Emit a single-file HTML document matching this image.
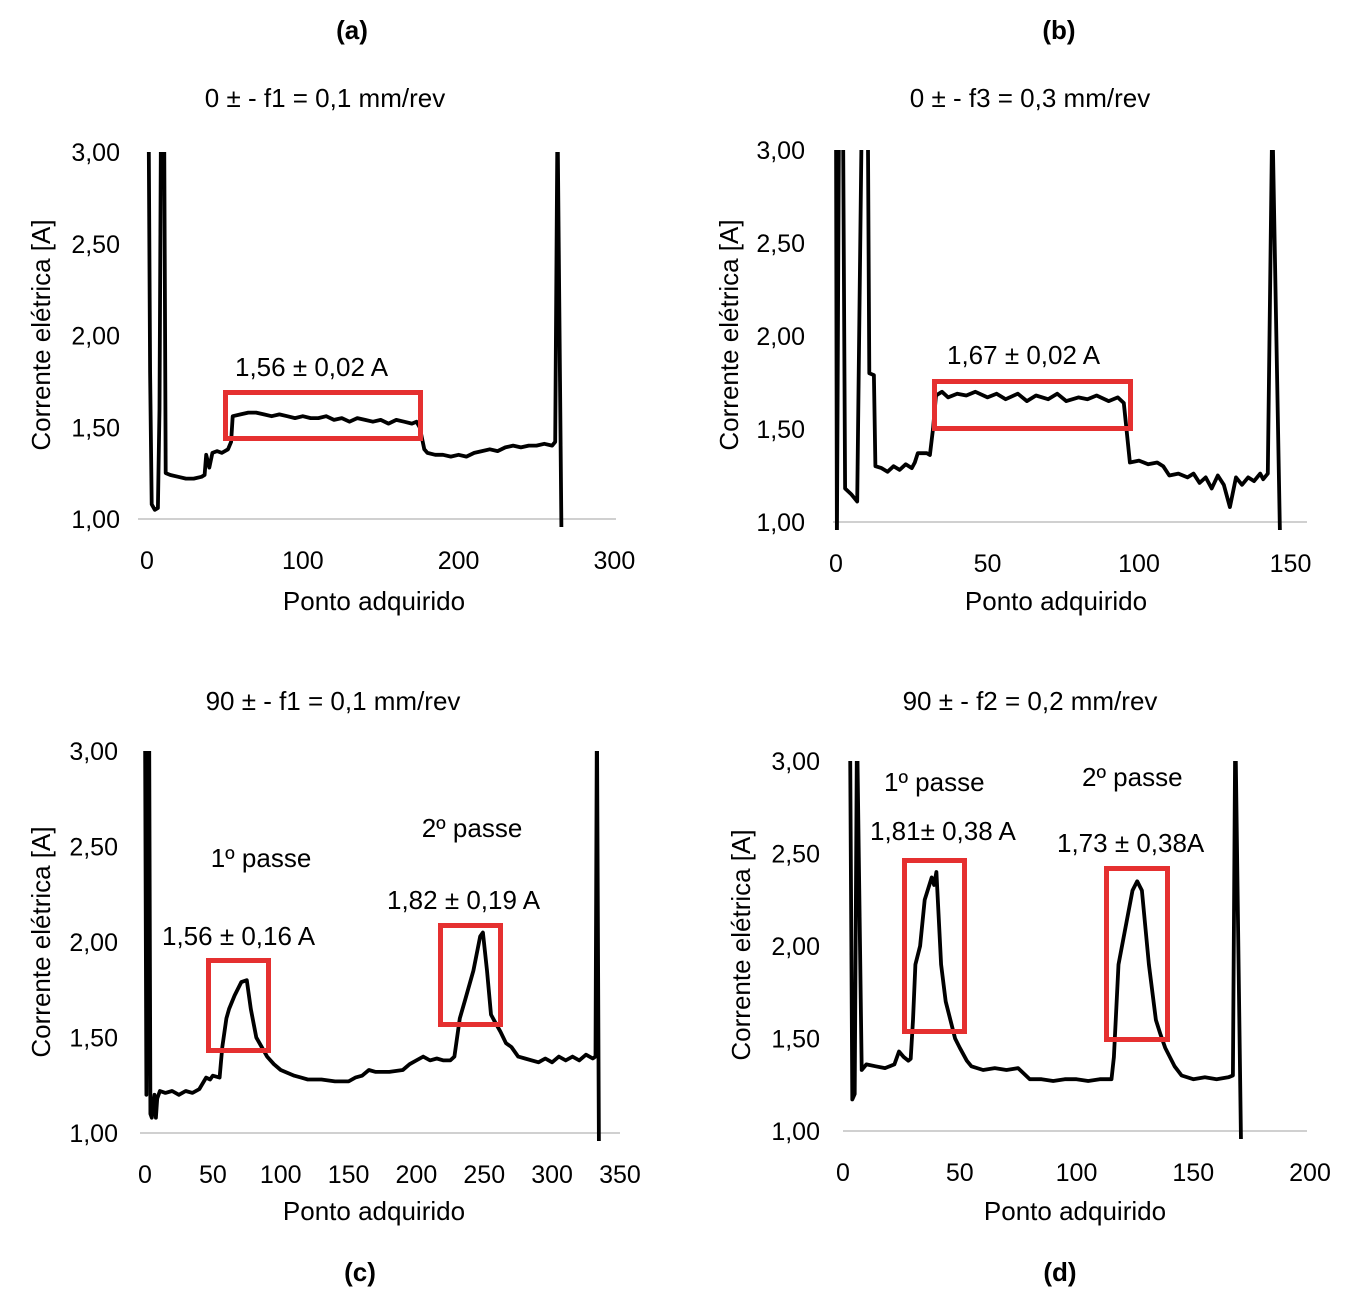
<!DOCTYPE html>
<html><head><meta charset="utf-8"><style>
body{margin:0;background:#fff;}
svg{display:block;font-family:"Liberation Sans",Arial,sans-serif;}
</style></head><body>
<svg id="fig" width="1358" height="1304" viewBox="0 0 1358 1304" xmlns="http://www.w3.org/2000/svg"></svg>
<script>
// ---- data ----
const xa=[0,1,2,3,5,7,8,9,10,11,12,15,20,25,30,35,37,38,40,42,45,48,50,52,54,55,60,65,70,75,80,85,90,95,100,105,110,115,120,125,130,135,140,145,150,155,160,165,170,173,175,178,180,185,190,195,200,205,210,215,220,225,230,235,240,245,250,255,260,262,263.5,266];
const ya=[3.2,3.2,1.8,1.08,1.05,1.06,1.6,3.2,3.2,3.2,1.25,1.24,1.23,1.22,1.22,1.23,1.24,1.35,1.28,1.36,1.37,1.36,1.37,1.38,1.42,1.56,1.57,1.58,1.58,1.57,1.56,1.57,1.56,1.55,1.56,1.55,1.55,1.56,1.54,1.55,1.53,1.55,1.54,1.53,1.54,1.52,1.54,1.53,1.52,1.53,1.50,1.38,1.36,1.35,1.35,1.34,1.35,1.34,1.36,1.37,1.38,1.37,1.39,1.40,1.39,1.40,1.40,1.41,1.40,1.42,3.2,0.95];
const xb=[0,0.3,1,2.3,3,5,6.5,7,8.5,10.5,11,12.5,13,15,17,19,21,23,25,26,27,30,31,32,33,35,37,40,43,46,50,53,56,60,63,66,70,73,76,80,83,86,90,93,95,97,100,103,106,108,110,113,116,118,120,122,124,126,128,130,132,134,136,138,140,141,142.5,144,146.5];
const yb=[3.2,0.9,3.2,3.2,1.18,1.15,1.12,1.11,3.2,3.2,1.80,1.79,1.30,1.29,1.27,1.30,1.28,1.31,1.29,1.32,1.37,1.37,1.36,1.50,1.68,1.70,1.67,1.69,1.68,1.70,1.67,1.69,1.66,1.69,1.65,1.68,1.66,1.69,1.65,1.67,1.66,1.68,1.65,1.67,1.64,1.32,1.33,1.31,1.32,1.30,1.25,1.26,1.24,1.26,1.21,1.24,1.18,1.25,1.20,1.08,1.24,1.20,1.24,1.22,1.26,1.23,1.26,3.2,0.95];
const xc=[0,1,2,3,4,5,6,7,8,9,11,15,20,25,30,35,40,45,48,50,55,57,60,62,66,71,75,78,82,86,90,95,100,110,115,120,130,140,150,155,160,165,170,180,190,195,200,205,210,215,220,225,228,232,236,242,247,249,252,255,258,262,266,270,275,280,290,295,300,305,310,315,320,325,330,332,333,334.5];
const yc=[3.2,1.2,3.2,3.2,1.10,1.08,1.15,1.20,1.08,1.18,1.22,1.21,1.22,1.20,1.22,1.21,1.23,1.29,1.28,1.30,1.29,1.45,1.60,1.65,1.72,1.79,1.80,1.65,1.50,1.45,1.40,1.36,1.33,1.30,1.29,1.28,1.28,1.27,1.27,1.29,1.30,1.33,1.32,1.32,1.33,1.36,1.38,1.40,1.38,1.39,1.38,1.38,1.40,1.60,1.70,1.85,2.03,2.05,1.85,1.62,1.58,1.53,1.47,1.45,1.40,1.39,1.37,1.39,1.37,1.40,1.38,1.40,1.38,1.41,1.39,1.40,3.2,0.95];
const xd=[0,1,2,3,4,5,6,8,10,14,18,22,24,26,28,29,30,31,33,35,38,39,40,42,44,46,48,50,53,55,60,65,70,75,80,85,90,95,100,105,110,115,116,118,121,124,126,128,131,134,136,138,142,145,150,155,160,165,167,168,170.5];
const yd=[3.2,3.2,3.2,3.2,1.17,1.20,3.2,1.33,1.36,1.35,1.34,1.36,1.43,1.40,1.38,1.39,1.60,1.90,2.00,2.25,2.37,2.33,2.40,1.90,1.70,1.60,1.50,1.45,1.38,1.35,1.33,1.34,1.33,1.34,1.28,1.28,1.27,1.28,1.28,1.27,1.28,1.28,1.40,1.90,2.10,2.30,2.35,2.30,1.90,1.60,1.52,1.45,1.35,1.30,1.28,1.29,1.28,1.29,1.30,3.2,0.9];
const yTicks=[1,1.5,2,2.5,3];
const yTickLabels=["1,00","1,50","2,00","2,50","3,00"];
const xTicksA=[0,100,200,300], xTicksB=[0,50,100,150], xTicksC=[0,50,100,150,200,250,300,350], xTicksD=[0,50,100,150,200];

const FS=26;
const NS="http://www.w3.org/2000/svg";
const svg=document.getElementById('fig');
function mk(tag,attrs,parent){const e=document.createElementNS(NS,tag);for(const k in attrs)e.setAttribute(k,attrs[k]);(parent||svg).appendChild(e);return e;}
function txt(s,x,y,size,anchor,extra){const t=mk('text',Object.assign({x:x,y:y,'font-size':size,'text-anchor':anchor||'start',fill:'#000'},extra||{}));t.textContent=s;return t;}

function panel(id,p,xs,ys,xt){
  const g=mk('g',{});
  
  
  const sx=v=>p.x0+v*p.kx, sy=v=>p.y1-(v-1)*p.ky;
  const ax=mk('line',{x1:p.axL,x2:p.axR,y1:p.y1,y2:p.y1,stroke:'#c0c0c0','stroke-width':1.5},g);
  
  
  yTicks.forEach((v,i)=>{const t=txt(yTickLabels[i],p.yl,sy(v)+9,FS-1,'end');g.appendChild(t);
    
    });
  xt.forEach(v=>{const t=txt(String(v),sx(v),p.y1+50,FS-1,'middle');g.appendChild(t);
    
    });
  const cp=mk('clipPath',{id:'cp'+id},g);
  mk('rect',{x:p.axL-10,y:sy(3),width:p.axR-p.axL+20,height:p.y1-sy(3)+8},cp);
  const d=xs.map((x,i)=>(i?'L':'M')+sx(x).toFixed(1)+' '+sy(ys[i]).toFixed(1)).join(' ');
  const path=mk('path',{d:d,fill:'none',stroke:'#000','stroke-width':3.8,'stroke-linejoin':'round','clip-path':'url(#cp'+id+')'},g);
  
  
  return g;
}
panel('a',{x0:147,kx:1.558,y1:519,ky:183.5,axL:138,axR:616,yl:120},xa,ya,xTicksA);
panel('b',{x0:836,kx:3.03,y1:522,ky:186,axL:833,axR:1307,yl:805},xb,yb,xTicksB);
panel('c',{x0:145,kx:1.357,y1:1133,ky:191,axL:140,axR:620,yl:118},xc,yc,xTicksC);
panel('d',{x0:843,kx:2.335,y1:1131,ky:185,axL:843,axR:1307,yl:820},xd,yd,xTicksD);

// red boxes
[[223,390,200,51,'a'],[932,379,201,52,'b'],[206,958,65,95,'c1'],[438,923,65,104,'c2'],[902,858,65,176,'d1'],[1104,866,66,176,'d2']].forEach(r=>{
  const e=mk('rect',{x:r[0]+2.5,y:r[1]+2.5,width:r[2]-5,height:r[3]-5,fill:'none',stroke:'#e53030','stroke-width':5});
  
  
});

// texts
const labels=[
 ['(a)',352,39,FS,'middle','panel-label-a',1],['(b)',1059,39,FS,'middle','panel-label-b',1],
 ['(c)',360,1281,FS,'middle','panel-label-c',1],['(d)',1060,1281,FS,'middle','panel-label-d',1],
 ['0 ± - f1 = 0,1 mm/rev',325,107,FS,'middle','title-a',0],['0 ± - f3 = 0,3 mm/rev',1030,107,FS,'middle','title-b',0],
 ['90 ±  - f1 = 0,1 mm/rev',333,710,FS,'middle','title-c',0],['90 ± - f2 = 0,2 mm/rev',1030,710,FS,'middle','title-d',0],
 ['Ponto adquirido',374,610,FS,'middle','x-axis-title-a',0],['Ponto adquirido',1056,610,FS,'middle','x-axis-title-b',0],
 ['Ponto adquirido',374,1220,FS,'middle','x-axis-title-c',0],['Ponto adquirido',1075,1220,FS,'middle','x-axis-title-d',0],
 ['1,56 ±  0,02 A',235,376,FS,'start','annotation-a',0],['1,67  ± 0,02 A',947,364,FS,'start','annotation-b',0],
 ['1º passe',261,867,FS,'middle','pass1-label-c',0],['2º passe',472,837,FS,'middle','pass2-label-c',0],
 ['1,56  ± 0,16 A',162,945,FS,'start','annotation-c1',0],['1,82 ± 0,19 A',387,909,FS,'start','annotation-c2',0],
 ['1º passe',884,791,FS,'start','pass1-label-d',0],['2º passe',1082,786,FS,'start','pass2-label-d',0],
 ['1,81± 0,38 A',870,840,FS,'start','annotation-d1',0],['1,73 ± 0,38A',1057,852,FS,'start','annotation-d2',0]
];
labels.forEach(l=>{const t=txt(l[0],l[1],l[2],l[3],l[4],l[6]?{'font-weight':'bold'}:{});
  
  });
[[50,335,'a'],[738,335,'b'],[50,942,'c'],[750,945,'d']].forEach(p=>{
  const t=txt('Corrente elétrica [A]',p[0],p[1],FS,'middle',{transform:'rotate(-90 '+p[0]+' '+p[1]+')'});
  
  
});
</script>
</body></html>
